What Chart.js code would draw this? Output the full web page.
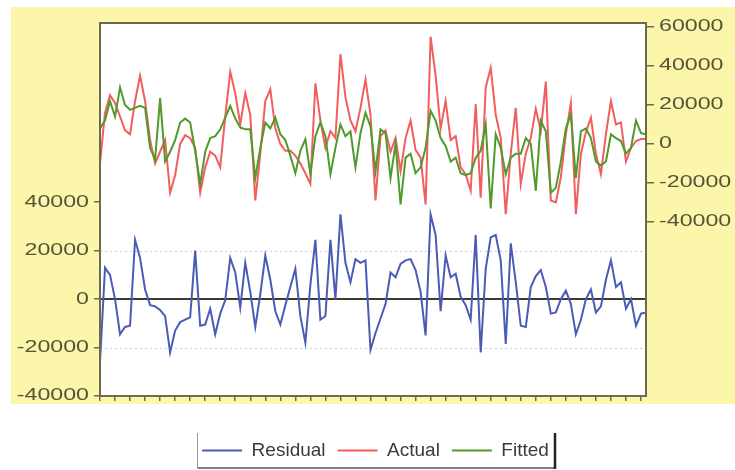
<!DOCTYPE html>
<html>
<head>
<meta charset="utf-8">
<title>Residual / Actual / Fitted</title>
<script src="https://cdn.jsdelivr.net/npm/chart.js@4.4.0/dist/chart.umd.min.js"></script>
<style>
  html, body { margin: 0; padding: 0; background: #ffffff; }
  #wrap { width: 735px; height: 470px; }
</style>
</head>
<body>
<div id="wrap"><canvas id="residChart" width="735" height="470"></canvas></div>
<script>
// residual, left scale
const residual = [
  -26000, 13000, 10000, 0, -14500, -11500, -11000, 24500, 17000, 4000,
  -2500, -3000, -4500, -7000, -22000, -13000, -9500, -8500, -7500, 20000,
  -11000, -10500, -4000, -14500, -6000, -500, 17000, 11000, -3500, 15000,
  3000, -11500, 2000, 18000, 8000, -5000, -10500, -2500, 5000, 12500,
  -7000, -18000, 6000, 24500, -8500, -7000, 24500, 0, 35000, 15000,
  7000, 16500, 15000, 16000, -21000, -14000, -8000, -2000, 11000, 9000,
  14500, 16000, 16500, 12000, 3000, -15000, 35000, 26500, -5000, 18000,
  9000, 10500, 1000, -2500, -8500, 26500, -22000, 12500, 25500, 26500,
  16000, -18500, 23000, 7000, -11000, -11500, 5000, 9500, 12000, 5000,
  -6000, -5500, 0, 3500, -2000, -14500, -8500, 0, 4000, -5500,
  -3000, 8000, 16000, 5000, 7000, -4000, 0, -11000, -6000, -5500
];

// actual and fitted, right scale
const actual = [
  -10000, 16000, 25000, 21000, 14000, 7000, 5000, 22000, 35000, 22000,
  2000, -10000, -4000, 2000, -25000, -16000, 0, 4500, 3000, -2000,
  -25000, -12000, -4000, -6000, -12000, 14000, 37000, 26000, 10000, 26000,
  15000, -29000, -5000, 22000, 28000, 8000, 0, -3500, -3500, -6000,
  -10000, -15000, -20500, 31000, 12000, -2000, 6500, 3000, 46000, 24000,
  12000, 6500, 18500, 33000, 15000, -29000, 4000, 7000, -4000, 3000,
  -14000, 3000, 12000, -3000, -7000, -31000, 55000, 35000, 8000, 22000,
  2000, 4000, -12000, -15500, -24000, 20500, -27500, 29000, 39000, 15000,
  3000, -36000, -5000, 18500, -20500, -5000, 3000, 18000, 6500, 32000,
  -29000, -30000, -17000, 5000, 21000, -36000, -5000, 6000, 13500, -5000,
  -15500, 5000, 22000, 10000, 11000, -9000, -2000, 1500, 2500, 2500
];

const fitted = [
  8000, 12000, 22000, 14000, 29000, 20000, 17500, 18500, 19500, 18500,
  -2000, -8000, 23500, -9000, -4000, 2000, 11000, 13000, 11000, -3500,
  -20500, -4000, 3000, 4000, 7500, 13500, 19500, 13000, 8500, 7500,
  7500, -17500, -2000, 11000, 8000, 13500, 5000, 2000, -6000, -15000,
  -3500, 2500, -15500, 4000, 11000, 4000, -15500, -2000, 10000, 4000,
  6500, -12000, 5500, 16000, 9000, -14000, 7500, 5500, -17500, 0,
  -31000, -7000, -5000, -15000, -12000, -2000, 17000, 12000, 3000, -1000,
  -9000, -7000, -15000, -16000, -15000, -7000, -3500, 10000, -33000, 5000,
  -2000, -15500, -7000, -5000, -5000, 3000, 0, -24000, 12000, 6500,
  -25000, -22500, -9000, 8000, 15000, -17500, 6500, 8000, 3000, -9000,
  -11000, -9000, 5000, 3000, 1500, -5000, -2000, 12000, 5500, 5000
];

const periods = residual.map((v, i) => i + 1);
const residTicks = [-40000, -20000, 0, 20000, 40000];
const levelTicks = [-40000, -20000, 0, 20000, 40000, 60000];

const frameColor = '#6d6a4e';
const labelColor = '#56533b';
const panelColor = '#fcf6aa';

Chart.defaults.font.family = "'Liberation Sans', Arial, sans-serif";

// axis numbers are drawn wide, like the old EViews output
function wideText(ctx, text, x, y, align) {
  ctx.save();
  ctx.translate(x, y);
  ctx.scale(1.45, 1);
  ctx.textAlign = align;
  ctx.textBaseline = 'middle';
  ctx.fillText(text, 0, 0);
  ctx.restore();
}

const eviewsLook = {
  id: 'eviewsLook',
  beforeDraw(chart) {
    const { ctx, chartArea: a } = chart;
    ctx.save();
    ctx.fillStyle = panelColor;
    ctx.fillRect(11, 7, 724, 397);
    ctx.fillStyle = '#ffffff';
    ctx.fillRect(a.left, a.top, a.right - a.left, a.bottom - a.top);
    ctx.restore();
  },
  beforeDatasetsDraw(chart) {
    const { ctx, chartArea: a, scales } = chart;
    const y = scales.y;
    ctx.save();
    ctx.lineWidth = 1;
    ctx.strokeStyle = '#cccccc';
    ctx.setLineDash([2, 3]);
    [-20000, 20000].forEach(v => {
      const py = Math.round(y.getPixelForValue(v)) + 0.5;
      ctx.beginPath();
      ctx.moveTo(a.left, py);
      ctx.lineTo(a.right, py);
      ctx.stroke();
    });
    ctx.setLineDash([]);
    ctx.lineWidth = 2;
    ctx.strokeStyle = '#3e3b2a';
    const zy = Math.round(y.getPixelForValue(0));
    ctx.beginPath();
    ctx.moveTo(a.left, zy);
    ctx.lineTo(a.right, zy);
    ctx.stroke();
    ctx.restore();
  },
  afterDraw(chart) {
    const { ctx, chartArea: a, scales } = chart;
    ctx.save();
    // plot frame
    ctx.lineWidth = 2;
    ctx.strokeStyle = frameColor;
    ctx.strokeRect(a.left, a.top, a.right - a.left, a.bottom - a.top);

    // tick labels
    ctx.fillStyle = labelColor;
    ctx.font = "16px 'Liberation Sans', Arial, sans-serif";
    residTicks.forEach(v => wideText(ctx, String(v), a.left - 11, scales.y.getPixelForValue(v), 'right'));
    levelTicks.forEach(v => wideText(ctx, String(v), a.right + 13, scales.y1.getPixelForValue(v), 'left'));

    // legend frame
    const lg = chart.legend;
    const hb = lg.legendHitBoxes;
    const last = hb[hb.length - 1];
    const l = Math.round(hb[0].left - 5) + 0.5;
    const r = Math.round(last.left + last.width + 6);
    const t = lg.top + 4;
    const b = lg.bottom - 2;
    ctx.lineWidth = 1;
    ctx.strokeStyle = '#9a9a9a';
    ctx.beginPath();
    ctx.moveTo(l, t);
    ctx.lineTo(l, b);
    ctx.stroke();
    ctx.lineWidth = 1.5;
    ctx.strokeStyle = '#555555';
    ctx.beginPath();
    ctx.moveTo(l, b);
    ctx.lineTo(r, b);
    ctx.stroke();
    ctx.lineWidth = 2.5;
    ctx.strokeStyle = '#222222';
    ctx.beginPath();
    ctx.moveTo(r, t);
    ctx.lineTo(r, b + 1);
    ctx.stroke();
    ctx.restore();
  }
};

const ctx = document.getElementById('residChart');
new Chart(ctx.getContext('2d'), {
  type: 'line',
  data: {
    labels: periods,
    datasets: [
      {
        label: 'Residual',
        data: residual,
        yAxisID: 'y',
        borderColor: '#4a5bb6',
        backgroundColor: '#4a5bb6',
        borderWidth: 2,
        pointRadius: 0,
        tension: 0,
        order: 0
      },
      {
        label: 'Actual',
        data: actual,
        yAxisID: 'y1',
        borderColor: '#f25e5e',
        backgroundColor: '#f25e5e',
        borderWidth: 2,
        pointRadius: 0,
        tension: 0,
        order: 2
      },
      {
        label: 'Fitted',
        data: fitted,
        yAxisID: 'y1',
        borderColor: '#4f9a2b',
        backgroundColor: '#4f9a2b',
        borderWidth: 2,
        pointRadius: 0,
        tension: 0,
        order: 1
      }
    ]
  },
  options: {
    responsive: false,
    devicePixelRatio: 1,
    animation: false,
    layout: { padding: { left: 16, top: 23, right: 0, bottom: 0 } },
    scales: {
      x: {
        type: 'category',
        offset: false,
        border: { display: false },
        grid: { drawOnChartArea: false, tickLength: 5, color: frameColor, lineWidth: 1.5 },
        ticks: {
          autoSkip: false,
          maxRotation: 0,
          font: { size: 1 },
          callback: (v, i) => (i % 3 === 0 ? '' : null)
        },
        afterFit(scale) { scale.height = 33; }
      },
      y: {
        position: 'left',
        min: -40000,
        max: 114000,
        border: { display: false },
        grid: { drawOnChartArea: false, tickLength: 6, color: frameColor, lineWidth: 1.5 },
        ticks: { display: false },
        afterBuildTicks(scale) { scale.ticks = residTicks.map(v => ({ value: v })); },
        afterFit(scale) { scale.width = 84; }
      },
      y1: {
        position: 'right',
        min: -129200,
        max: 62000,
        border: { display: false },
        grid: { drawOnChartArea: false, tickLength: 8, color: frameColor, lineWidth: 1.5 },
        ticks: { display: false },
        afterBuildTicks(scale) { scale.ticks = levelTicks.map(v => ({ value: v })); },
        afterFit(scale) { scale.width = 89; }
      }
    },
    plugins: {
      legend: {
        position: 'bottom',
        labels: {
          usePointStyle: true,
          pointStyle: 'line',
          pointStyleWidth: 40,
          padding: 12,
          color: '#3a3a3a',
          font: { size: 19 },
          sort: (a, b) => a.datasetIndex - b.datasetIndex
        }
      },
      tooltip: { enabled: false }
    }
  },
  plugins: [eviewsLook]
});
</script>
</body>
</html>
